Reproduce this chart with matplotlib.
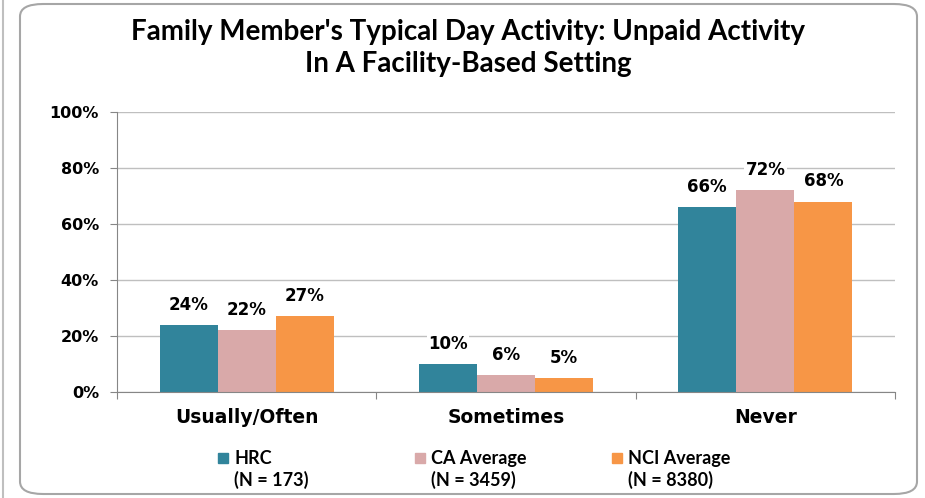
import matplotlib.pyplot as plt
import numpy as np
from matplotlib.patches import FancyBboxPatch, Rectangle

categories = ['Usually/Often', 'Sometimes', 'Never']
series = ['HRC', 'CA Average', 'NCI Average']
series_n = ['(N = 173)', '(N = 3459)', '(N = 8380)']
hrc = [24, 10, 66]
ca = [22, 6, 72]
nci = [27, 5, 68]
colors = ['#31849B', '#D9A9A9', '#F79646']

plt.rcParams['font.family'] = ['DejaVu Sans']
calibri_like = ['Lato', 'DejaVu Sans']

fig = plt.figure(figsize=(9.25, 4.98), dpi=100)
# slide-style frame
fig.patches.append(FancyBboxPatch((20 / 925, 4 / 498), 897 / 925, 490 / 498,
                                  boxstyle='round,pad=0,rounding_size=0.025',
                                  transform=fig.transFigure, fill=False,
                                  edgecolor='#A6A6A6', linewidth=1.5))
fig.add_artist(plt.Line2D([3 / 925, 3 / 925], [0, 1], color='#BFBFBF', lw=1.5,
                          transform=fig.transFigure))

ax = fig.add_axes([117 / 925, 1 - 392 / 498, 778 / 925, 280 / 498])
x = np.arange(len(categories))
w = 0.224
for i, vals in enumerate([hrc, ca, nci]):
    bars = ax.bar(x + (i - 1) * w, vals, w, color=colors[i], zorder=2)
    for b, v in zip(bars, vals):
        ax.text(b.get_x() + b.get_width() / 2, v + 4, f'{v}%', ha='center', va='bottom',
                fontsize=12, fontweight='bold', zorder=3,
                bbox=dict(facecolor='white', edgecolor='none', pad=1))

ax.set_xlim(-0.5, 2.5)
ax.set_ylim(0, 100)
ax.set_yticks(np.arange(0, 101, 20))
ax.set_yticklabels([f'{t}%' for t in range(0, 101, 20)], fontsize=11.5, fontweight='bold')
ax.set_xticks([-0.5, 0.5, 1.5, 2.5])
ax.set_xticklabels([])
ax.tick_params(axis='x', length=5, color='#868686')
ax.tick_params(axis='y', length=5, color='#868686', pad=8)
for c, lab in zip(x, categories):
    ax.text(c, -9, lab, ha='center', va='center', fontsize=13.5, fontweight='bold',
            transform=ax.transData)
ax.grid(axis='y', color='#BFBFBF', linewidth=1, zorder=0)
for s in ['top', 'right']:
    ax.spines[s].set_visible(False)
ax.spines['left'].set_color('#868686')
ax.spines['bottom'].set_color('#868686')

fig.text(468 / 925, 1 - 32 / 498, "Family Member's Typical Day Activity: Unpaid Activity",
         ha='center', va='center', fontsize=20, fontweight='bold', family=calibri_like)
fig.text(468 / 925, 1 - 64 / 498, 'In A Facility-Based Setting',
         ha='center', va='center', fontsize=20, fontweight='bold', family=calibri_like)

# legend
leg_x = [218, 415, 612]
for lx, s, n, c in zip(leg_x, series, series_n, colors):
    fig.patches.append(Rectangle((lx / 925, 1 - 463 / 498), 10 / 925, 10 / 498,
                                 transform=fig.transFigure, color=c))
    fig.text((lx + 16) / 925, 1 - 458 / 498, s, ha='left', va='center',
             fontsize=13, fontweight='bold', family=calibri_like)
    fig.text((lx + 16) / 925, 1 - 480 / 498, n, ha='left', va='center',
             fontsize=13, fontweight='bold', family=calibri_like)

fig.savefig('out.png', dpi=100)
